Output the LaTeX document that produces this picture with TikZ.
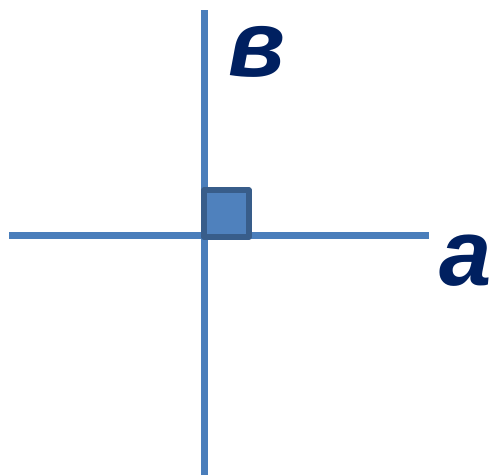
\documentclass[tikz,border=0pt]{standalone}
\usepackage{fontspec}
\setmainfont{Liberation Sans}
\usepackage{tikz}
\usetikzlibrary{positioning}
\definecolor{axisblue}{HTML}{4A7EBB}
\definecolor{boxfill}{HTML}{4F81BD}
\definecolor{boxedge}{HTML}{385D8A}
\definecolor{labelnavy}{HTML}{002060}

\begin{document}
\begin{tikzpicture}[x=1pt, y=1pt,
    axis/.style={axisblue, line width=7pt},
    vlabel/.style={text=labelnavy, inner sep=0pt,
        font=\fontsize{94}{94}\selectfont\bfseries\itshape}]
    \useasboundingbox (0,0) rectangle (491,475);
    % the two lines
    \coordinate (hl) at (9,239);
    \coordinate (hr) at (429,239);
    \coordinate (vt) at (204,465);
    \coordinate (vb) at (204,0);
    \draw[axis] (hl) -- (hr);
    \draw[axis] (vb) -- (vt);
    % right angle mark
    \draw[boxedge, fill=boxfill, line width=5.5pt, line join=round]
        (204,238) rectangle (249,285);
    % labels
    \node[vlabel] (b) at (257,423) {в};
    \node[vlabel] (a) at (466,214) {a};
\end{tikzpicture}
\end{document}
